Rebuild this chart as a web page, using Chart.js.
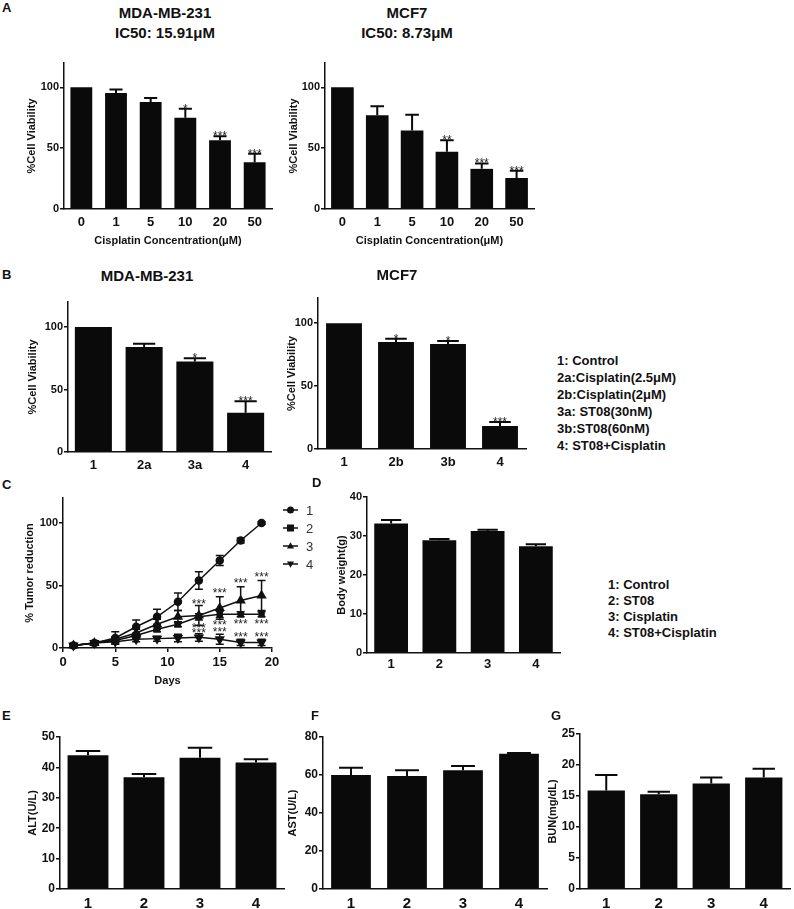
<!DOCTYPE html>
<html>
<head>
<meta charset="utf-8">
<script src="https://cdn.jsdelivr.net/npm/chart.js"></script>
<style>
body { margin: 0; background: #fff; }
#fig { position: relative; width: 794px; height: 909px; overflow: hidden; font-family: 'Liberation Sans', Arial, sans-serif; color: #111; }
#fig canvas { position: absolute; }
.t { position: absolute; font-weight: bold; white-space: nowrap; }
</style>
</head>
<body>
<div id="fig"></div>
<script>
// A: cisplatin dose response
const aConc = ['0', '1', '5', '10', '20', '50'];
const aMdaMean = [100, 95.3, 88, 75, 56.5, 38.5];
const aMdaErr = [0, 3, 3.2, 7.5, 3.3, 7];
const aMdaSig = ['', '', '', '*', '***', '***'];
const aMcfMean = [100, 77, 64.5, 47, 33, 25.5];
const aMcfErr = [0, 7.5, 13, 9.5, 4.5, 6];
const aMcfSig = ['', '', '', '**', '***', '***'];

// B: combination in vitro
const bMdaGroups = ['1', '2a', '3a', '4'];
const bMdaMean = [100, 84, 72.5, 31.5];
const bMdaErr = [0, 2.7, 2.6, 9.2];
const bMdaSig = ['', '', '*', '***'];
const bMcfGroups = ['1', '2b', '3b', '4'];
const bMcfMean = [100, 85, 83.5, 18.3];
const bMcfErr = [0, 2.7, 2.4, 3.2];
const bMcfSig = ['', '*', '*', '***'];
const bLegend = ['1: Control', '2a:Cisplatin(2.5μM)', '2b:Cisplatin(2μM)', '3a: ST08(30nM)', '3b:ST08(60nM)', '4: ST08+Cisplatin'];

// C: tumor growth
const cDays = [1, 3, 5, 7, 9, 11, 13, 15, 17, 19];
const cControl = [2, 4, 8, 17, 25, 37, 54, 70, 86, 100];
const cControlErr = [1, 1, 5, 5.5, 6, 7, 7, 4, 2, 1];
const cST08 = [2, 4, 6, 10, 15, 19, 25, 27, 27, 27];
const cST08Err = [1, 1, 1.5, 2, 2, 2, 2.5, 2.5, 2, 2];
const cCis = [2, 4, 7, 12, 19, 25, 26, 32, 38, 42];
const cCisErr = [1, 1, 2, 3, 4, 5, 8, 9, 11, 12];
const cCombo = [2, 4, 5, 7, 7.5, 8, 8.5, 7, 4.5, 4.5];
const cComboErr = [1, 1, 1.5, 2, 2, 3, 3, 4, 2.5, 2.5];
const cStarDays = [13, 13, 13, 15, 15, 15, 17, 17, 17, 19, 19, 19];
const cStarVals = [36, 17, 13, 45, 19.5, 13.3, 52.7, 20, 10, 58, 20, 10];
const cLegend = ['1', '2', '3', '4'];

// D-G: in vivo toxicity
const groups = ['1', '2', '3', '4'];
const dWeight = [33.2, 28.9, 31.3, 27.4];
const dWeightErr = [0.9, 0.3, 0.3, 0.5];
const dLegend = ['1: Control', '2: ST08', '3: Cisplatin', '4: ST08+Cisplatin'];
const eALT = [44, 36.8, 43.2, 41.6];
const eALTErr = [1.4, 1, 3.3, 1.1];
const fAST = [60, 59.5, 62.5, 71.2];
const fASTErr = [3.8, 3, 2.2, 0.4];
const gBUN = [15.9, 15.3, 17, 18];
const gBUNErr = [2.5, 0.4, 1, 1.4];

const INK = '#111';
const STAR_FONT = "12px 'Liberation Sans', Arial, sans-serif";
Chart.defaults.font.family = "'Liberation Sans', Arial, sans-serif";
Chart.defaults.font.weight = 'bold';
Chart.defaults.color = INK;

const fig = document.getElementById('fig');

function addText(text, left, top, size, extra) {
    const d = document.createElement('div');
    d.className = 't';
    d.textContent = text;
    d.style.left = left + 'px';
    d.style.top = top + 'px';
    d.style.fontSize = size + 'px';
    if (extra) Object.assign(d.style, extra);
    fig.appendChild(d);
}

function addCanvas(box) {
    const [l, t, r, b] = box;
    const c = document.createElement('canvas');
    c.width = r - l;
    c.height = b - t;
    c.style.left = l + 'px';
    c.style.top = t + 'px';
    c.style.width = (r - l) + 'px';
    c.style.height = (b - t) + 'px';
    fig.appendChild(c);
    return c;
}

// upper error bars + significance stars on bar charts
const errBars = {
    id: 'errbars',
    afterDatasetsDraw(chart, args, opts) {
        if (!opts.errs) return;
        const ctx = chart.ctx;
        const y = chart.scales.y;
        const values = chart.data.datasets[0].data;
        ctx.save();
        ctx.strokeStyle = '#0a0a0a';
        ctx.lineWidth = 2;
        chart.getDatasetMeta(0).data.forEach((bar, i) => {
            const e = opts.errs[i];
            const yTop = y.getPixelForValue(values[i] + e);
            const half = bar.width * 0.3;
            if (e > 0) {
                ctx.beginPath();
                ctx.moveTo(bar.x, y.getPixelForValue(values[i]));
                ctx.lineTo(bar.x, yTop);
                ctx.moveTo(bar.x - half, yTop);
                ctx.lineTo(bar.x + half, yTop);
                ctx.stroke();
            }
            if (opts.sig && opts.sig[i]) {
                ctx.fillStyle = '#222';
                ctx.font = STAR_FONT;
                ctx.textAlign = 'center';
                ctx.textBaseline = 'alphabetic';
                ctx.fillText(opts.sig[i], bar.x, yTop + 4);
            }
        });
        ctx.restore();
    }
};

// two-sided error bars, stars and legend for the growth curve
function drawMarker(ctx, style, x, y, r) {
    ctx.beginPath();
    if (style === 'circle') {
        ctx.arc(x, y, r, 0, Math.PI * 2);
    } else if (style === 'rect') {
        ctx.rect(x - r, y - r, 2 * r, 2 * r);
    } else if (style === 'up') {
        ctx.moveTo(x, y - r * 1.1); ctx.lineTo(x + r, y + r * 0.7); ctx.lineTo(x - r, y + r * 0.7);
    } else {
        ctx.moveTo(x, y + r * 1.1); ctx.lineTo(x + r, y - r * 0.7); ctx.lineTo(x - r, y - r * 0.7);
    }
    ctx.closePath();
    ctx.fill();
}

const growthExtras = {
    id: 'growth',
    afterDatasetsDraw(chart, args, opts) {
        if (!opts.on) return;
        const ctx = chart.ctx;
        const xs = chart.scales.x, ys = chart.scales.y;
        ctx.save();
        ctx.strokeStyle = INK;
        ctx.lineWidth = 1.5;
        chart.data.datasets.forEach(ds => {
            ds.data.forEach((p, i) => {
                const e = ds.errs[i];
                const px = xs.getPixelForValue(p.x);
                const y1 = ys.getPixelForValue(p.y + e), y0 = ys.getPixelForValue(p.y - e);
                ctx.beginPath();
                ctx.moveTo(px, y0); ctx.lineTo(px, y1);
                ctx.moveTo(px - 4, y1); ctx.lineTo(px + 4, y1);
                ctx.moveTo(px - 4, y0); ctx.lineTo(px + 4, y0);
                ctx.stroke();
            });
        });
        ctx.fillStyle = '#222';
        ctx.font = STAR_FONT;
        ctx.textAlign = 'center';
        ctx.textBaseline = 'alphabetic';
        cStarDays.forEach((d, i) => {
            ctx.fillText('***', xs.getPixelForValue(d), ys.getPixelForValue(cStarVals[i]) + 5);
        });
        // legend
        const styles = ['circle', 'rect', 'up', 'down'];
        const lx = chart.chartArea.right + 11;
        cLegend.forEach((lab, i) => {
            const ly = chart.chartArea.top + 12 + i * 18;
            ctx.strokeStyle = INK;
            ctx.beginPath();
            ctx.moveTo(lx, ly); ctx.lineTo(lx + 15, ly);
            ctx.stroke();
            ctx.fillStyle = INK;
            drawMarker(ctx, styles[i], lx + 7.5, ly, 3.5);
            ctx.fillStyle = '#333';
            ctx.font = "13px 'Liberation Sans', Arial, sans-serif";
            ctx.textAlign = 'left';
            ctx.textBaseline = 'middle';
            ctx.fillText(lab, lx + 23, ly + 1);
        });
        ctx.restore();
    }
};

Chart.register(errBars, growthExtras);

function barPanel(p) {
    const [cl, ct, cr, cb] = p.canvas;
    const [al, at, ar, ab] = p.area;
    const ctx = addCanvas(p.canvas);
    return new Chart(ctx, {
        type: 'bar',
        data: {
            labels: p.labels,
            datasets: [{
                data: p.values,
                backgroundColor: '#0a0a0a',
                barPercentage: p.barPct,
                categoryPercentage: 1
            }]
        },
        options: {
            responsive: false,
            animation: false,
            layout: { padding: { left: 0, top: at - ct, right: cr - ar, bottom: 0 } },
            plugins: {
                legend: { display: false },
                tooltip: { enabled: false },
                errbars: { errs: p.errs, sig: p.sig }
            },
            scales: {
                x: {
                    grid: { display: true, drawOnChartArea: false, color: 'rgba(0,0,0,0)', tickLength: p.xTick },
                    border: { display: true, color: INK, width: 1.5 },
                    ticks: { color: INK, font: { size: p.xFont, weight: 'bold' }, padding: 2, maxRotation: 0 },
                    title: {
                        display: !!p.xTitle,
                        text: p.xTitle || '',
                        color: INK,
                        font: { size: 11, weight: 'bold' },
                        padding: { top: 0, bottom: p.xTitlePad || 0 }
                    },
                    afterFit: s => { s.height = cb - ab; }
                },
                y: {
                    min: 0,
                    max: p.max,
                    grid: { display: true, drawOnChartArea: false, color: INK, lineWidth: 1.5, tickLength: 4 },
                    border: { display: true, color: INK, width: 1.5 },
                    ticks: { stepSize: p.step, includeBounds: false, color: INK, font: { size: p.yFont, weight: 'bold' }, padding: 1 },
                    title: {
                        display: true,
                        text: p.yTitle,
                        color: INK,
                        font: { size: 11, weight: 'bold' },
                        padding: { top: p.yTitleX - cl - 6.6, bottom: 0 }
                    },
                    afterFit: s => { s.width = al - cl; }
                }
            }
        }
    });
}

// ---- panel A ----
barPanel({ canvas: [18, 48, 285, 255], area: [64, 63, 272, 209], labels: aConc, values: aMdaMean, errs: aMdaErr, sig: aMdaSig,
    barPct: 0.63, max: 120, step: 50, xFont: 13, yFont: 11, xTick: 4, yTitle: '%Cell Viability', yTitleX: 32,
    xTitle: 'Cisplatin Concentration(μM)', xTitlePad: 7.4 });
barPanel({ canvas: [280, 48, 545, 255], area: [325, 63, 534, 209], labels: aConc, values: aMcfMean, errs: aMcfErr, sig: aMcfSig,
    barPct: 0.65, max: 120, step: 50, xFont: 13, yFont: 11, xTick: 4, yTitle: '%Cell Viability', yTitleX: 294,
    xTitle: 'Cisplatin Concentration(μM)', xTitlePad: 7.4 });

// ---- panel B ----
barPanel({ canvas: [18, 290, 285, 475], area: [68, 302, 271, 452], labels: bMdaGroups, values: bMdaMean, errs: bMdaErr, sig: bMdaSig,
    barPct: 0.73, max: 120, step: 50, xFont: 13, yFont: 11, xTick: 4, yTitle: '%Cell Viability', yTitleX: 33 });
barPanel({ canvas: [278, 285, 540, 475], area: [318, 298, 526, 449], labels: bMcfGroups, values: bMcfMean, errs: bMcfErr, sig: bMcfSig,
    barPct: 0.69, max: 120, step: 50, xFont: 13, yFont: 11, xTick: 4, yTitle: '%Cell Viability', yTitleX: 292 });

// ---- panel C ----
(function () {
    const box = [15, 485, 315, 690];
    const area = [63, 498, 272, 648];
    const series = [
        { label: '1', vals: cControl, errs: cControlErr, style: 'circle', rot: 0, r: 3.5 },
        { label: '2', vals: cST08, errs: cST08Err, style: 'rect', rot: 0, r: 3.5 },
        { label: '3', vals: cCis, errs: cCisErr, style: 'triangle', rot: 0, r: 4.5 },
        { label: '4', vals: cCombo, errs: cComboErr, style: 'triangle', rot: 180, r: 4.5 }
    ];
    new Chart(addCanvas(box), {
        type: 'line',
        data: {
            datasets: series.map(s => ({
                label: s.label,
                data: cDays.map((d, i) => ({ x: d, y: s.vals[i] })),
                errs: s.errs,
                borderColor: INK,
                borderWidth: 1.5,
                backgroundColor: INK,
                pointBackgroundColor: INK,
                pointBorderColor: INK,
                pointStyle: s.style,
                pointRotation: s.rot,
                pointRadius: s.r,
                tension: 0,
                clip: false
            }))
        },
        options: {
            responsive: false,
            animation: false,
            layout: { padding: { left: 0, top: area[1] - box[1], right: box[2] - area[2], bottom: 0 } },
            plugins: { legend: { display: false }, tooltip: { enabled: false }, growth: { on: true } },
            scales: {
                x: {
                    type: 'linear', min: 0, max: 20,
                    grid: { display: true, drawOnChartArea: false, color: INK, lineWidth: 1.5, tickLength: 4 },
                    border: { display: true, color: INK, width: 1.5 },
                    ticks: { stepSize: 5, color: INK, font: { size: 13, weight: 'bold' }, padding: 3 },
                    title: { display: true, text: 'Days', color: INK, font: { size: 11, weight: 'bold' }, padding: { top: 0, bottom: 2.4 } },
                    afterFit: s => { s.height = box[3] - area[3]; }
                },
                y: {
                    min: 0, max: 120,
                    grid: { display: true, drawOnChartArea: false, color: INK, lineWidth: 1.5, tickLength: 4 },
                    border: { display: true, color: INK, width: 1.5 },
                    ticks: { stepSize: 50, includeBounds: false, color: INK, font: { size: 11, weight: 'bold' }, padding: 1 },
                    title: { display: true, text: '% Tumor reduction', color: INK, font: { size: 11, weight: 'bold' }, padding: { top: 30 - box[0] - 6.6, bottom: 0 } },
                    afterFit: s => { s.width = area[0] - box[0]; }
                }
            }
        }
    });
})();

// ---- panel D ----
barPanel({ canvas: [325, 485, 570, 675], area: [367, 497, 560, 653], labels: groups, values: dWeight, errs: dWeightErr, sig: null,
    barPct: 0.7, max: 40, step: 10, xFont: 13, yFont: 11, xTick: 2, yTitle: 'Body weight(g)', yTitleX: 342 });

// ---- panels E, F, G ----
barPanel({ canvas: [15, 725, 290, 909], area: [60, 737, 284, 889], labels: groups, values: eALT, errs: eALTErr, sig: null,
    barPct: 0.73, max: 50, step: 10, xFont: 15, yFont: 12, xTick: 4, yTitle: 'ALT(U/L)', yTitleX: 33 });
barPanel({ canvas: [278, 725, 552, 909], area: [323, 737, 547, 889], labels: groups, values: fAST, errs: fASTErr, sig: null,
    barPct: 0.71, max: 80, step: 20, xFont: 15, yFont: 12, xTick: 4, yTitle: 'AST(U/L)', yTitleX: 293 });
barPanel({ canvas: [540, 722, 794, 909], area: [580, 734, 790, 889], labels: groups, values: gBUN, errs: gBUNErr, sig: null,
    barPct: 0.71, max: 25, step: 5, xFont: 15, yFont: 12, xTick: 4, yTitle: 'BUN(mg/dL)', yTitleX: 553 });

// ---- titles, panel letters, legends ----
const center = { width: '240px', textAlign: 'center', lineHeight: '20px' };
addText('MDA-MB-231', 165 - 120, 3, 15, center);
addText('IC50: 15.91μM', 165 - 120, 23, 15, center);
addText('MCF7', 407 - 120, 3, 15, center);
addText('IC50: 8.73μM', 407 - 120, 23, 15, center);
addText('MDA-MB-231', 147 - 120, 266, 15, center);
addText('MCF7', 397 - 120, 265, 15, center);

const letter = { lineHeight: '16px' };
addText('A', 2, 0, 13, letter);
addText('B', 2, 267, 13, letter);
addText('C', 2, 477, 13, letter);
addText('D', 312, 475, 13, letter);
addText('E', 2, 708, 13, letter);
addText('F', 311, 708, 13, letter);
addText('G', 551, 708, 13, letter);

bLegend.forEach((s, i) => addText(s, 557, 351.5 + i * 17, 13, { lineHeight: '17px' }));
dLegend.forEach((s, i) => addText(s, 608, 577 + i * 16, 13, { lineHeight: '16px' }));
</script>
</body>
</html>
